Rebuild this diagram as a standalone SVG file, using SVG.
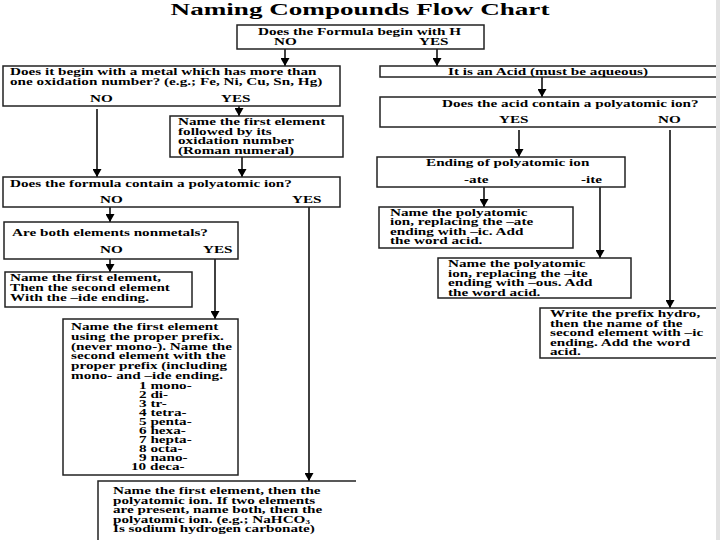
<svg xmlns="http://www.w3.org/2000/svg" width="720" height="540" viewBox="0 0 720 540">
<style>
.t{font-family:"Liberation Serif","Times New Roman",serif;font-weight:bold;font-size:10px;fill:#000}
.title{font-family:"Liberation Serif","Times New Roman",serif;font-weight:bold;font-size:17.5px;fill:#000}
.box{fill:#fff;stroke:#222;stroke-width:1.5}
.ln{fill:none;stroke:#111;stroke-width:1.6}
</style>
<defs>
<marker id="ah" markerUnits="userSpaceOnUse" markerWidth="9" markerHeight="9" refX="8" refY="4.5" orient="auto">
<path d="M0,0 L8,4.5 L0,9 z" fill="#000"/>
</marker>
</defs>
<rect x="0" y="0" width="720" height="540" fill="#fff"/>
<text class="title" text-anchor="middle" transform="translate(360,15) scale(1.55,1)">Naming Compounds Flow Chart</text>

<g id="connectors">
<line class="ln" x1="285" y1="49" x2="285" y2="66" marker-end="url(#ah)"/>
<line class="ln" x1="437" y1="49" x2="437" y2="66" marker-end="url(#ah)"/>
<line class="ln" x1="97" y1="109" x2="97" y2="177" marker-end="url(#ah)"/>
<line class="ln" x1="239" y1="106" x2="239" y2="116" marker-end="url(#ah)"/>
<line class="ln" x1="242" y1="157" x2="242" y2="177" marker-end="url(#ah)"/>
<line class="ln" x1="110" y1="207" x2="110" y2="222" marker-end="url(#ah)"/>
<line class="ln" x1="309" y1="207" x2="309" y2="481" marker-end="url(#ah)"/>
<line class="ln" x1="110" y1="259" x2="110" y2="272" marker-end="url(#ah)"/>
<line class="ln" x1="215" y1="259" x2="215" y2="319" marker-end="url(#ah)"/>
<line class="ln" x1="542" y1="77" x2="542" y2="97" marker-end="url(#ah)"/>
<line class="ln" x1="519" y1="130" x2="519" y2="157" marker-end="url(#ah)"/>
<line class="ln" x1="670" y1="130" x2="670" y2="308" marker-end="url(#ah)"/>
<line class="ln" x1="484" y1="187" x2="484" y2="207" marker-end="url(#ah)"/>
<line class="ln" x1="600" y1="187" x2="600" y2="258" marker-end="url(#ah)"/>
</g>

<g id="n-begin-h">
<rect class="box" x="237" y="25" width="247" height="24"/>
<text class="t" transform="translate(258,35) scale(1.52,1)">Does the Formula begin with H</text>
<text class="t" transform="translate(274,45) scale(1.52,1)">NO</text>
<text class="t" transform="translate(419,45) scale(1.52,1)">YES</text>
</g>

<g id="n-metal">
<rect class="box" x="3" y="66" width="337" height="40"/>
<text class="t" transform="translate(10,74.5) scale(1.52,1)"><tspan x="0" y="0">Does it begin with a metal which has more than</tspan><tspan x="0" y="10.7">one oxidation number? (e.g.; Fe, Ni, Cu, Sn, Hg)</tspan></text>
<text class="t" transform="translate(90,102) scale(1.52,1)">NO</text>
<text class="t" transform="translate(221,102) scale(1.52,1)">YES</text>
</g>

<g id="n-roman">
<rect class="box" x="170" y="116" width="173" height="41"/>
<text class="t" transform="translate(178,125) scale(1.52,1)"><tspan x="0" y="0">Name the first element</tspan><tspan x="0" y="9.7">followed by its</tspan><tspan x="0" y="19.4">oxidation number</tspan><tspan x="0" y="29.1">(Roman numeral)</tspan></text>
</g>

<g id="n-poly">
<rect class="box" x="3" y="177" width="337" height="30"/>
<text class="t" transform="translate(10,187) scale(1.52,1)">Does the formula contain a polyatomic ion?</text>
<text class="t" transform="translate(100,203) scale(1.52,1)">NO</text>
<text class="t" transform="translate(292,203) scale(1.52,1)">YES</text>
</g>

<g id="n-nonmetals">
<rect class="box" x="4" y="222" width="234" height="37"/>
<text class="t" transform="translate(12,236) scale(1.52,1)">Are both elements nonmetals?</text>
<text class="t" transform="translate(100,253) scale(1.52,1)">NO</text>
<text class="t" transform="translate(203,253) scale(1.52,1)">YES</text>
</g>

<g id="n-ide">
<rect class="box" x="5" y="272" width="187" height="35"/>
<text class="t" transform="translate(10,281) scale(1.52,1)"><tspan x="0" y="0">Name the first element,</tspan><tspan x="0" y="10">Then the second element</tspan><tspan x="0" y="20">With the –ide ending.</tspan></text>
</g>

<g id="n-prefix">
<rect class="box" x="63" y="319" width="175" height="156"/>
<text class="t" transform="translate(71,330) scale(1.52,1)"><tspan x="0" y="0">Name the first element</tspan><tspan x="0" y="9.8">using the proper prefix.</tspan><tspan x="0" y="19.6">(never mono-). Name the</tspan><tspan x="0" y="29.4">second element with the</tspan><tspan x="0" y="39.2">proper prefix (including</tspan><tspan x="0" y="49">mono- and –ide ending.</tspan></text>
<text class="t" transform="translate(139,389) scale(1.52,1)"><tspan x="0" y="0">1 mono-</tspan><tspan x="0" y="9">2 di-</tspan><tspan x="0" y="18">3 tr-</tspan><tspan x="0" y="27">4 tetra-</tspan><tspan x="0" y="36">5 penta-</tspan><tspan x="0" y="45">6 hexa-</tspan><tspan x="0" y="54">7 hepta-</tspan><tspan x="0" y="63">8 octa-</tspan><tspan x="0" y="72">9 nano-</tspan><tspan x="-5.3" y="81">10 deca-</tspan></text>
</g>

<g id="n-polyname">
<path class="box" d="M356,481 H98 V541" fill="none"/>
<text class="t" transform="translate(113,494) scale(1.52,1)"><tspan x="0" y="0">Name the first element, then the</tspan><tspan x="0" y="9.6">polyatomic ion.  If two elements</tspan><tspan x="0" y="19.2">are present, name both, then the</tspan><tspan x="0" y="28.8">polyatomic ion. (e.g.; NaHCO<tspan font-size="6" dy="1.2">3</tspan></tspan><tspan x="0" y="38.4">Is sodium hydrogen carbonate)</tspan></text>
</g>

<g id="n-acid">
<rect class="box" x="380" y="66" width="340" height="11"/>
<text class="t" transform="translate(448,75) scale(1.52,1)">It is an Acid (must be aqueous)</text>
</g>

<g id="n-acidpoly">
<rect class="box" x="380" y="97" width="340" height="30"/>
<text class="t" transform="translate(442,106.5) scale(1.52,1)">Does the acid contain a polyatomic ion?</text>
<text class="t" transform="translate(499,123) scale(1.52,1)">YES</text>
<text class="t" transform="translate(658,123) scale(1.52,1)">NO</text>
</g>

<g id="n-ending">
<rect class="box" x="377" y="157" width="248" height="30"/>
<text class="t" transform="translate(426,166) scale(1.52,1)">Ending of polyatomic ion</text>
<text class="t" transform="translate(464,183) scale(1.52,1)">-ate</text>
<text class="t" transform="translate(581,183) scale(1.52,1)">-ite</text>
</g>

<g id="n-ic">
<rect class="box" x="379" y="207" width="194" height="41"/>
<text class="t" transform="translate(390,216) scale(1.52,1)"><tspan x="0" y="0">Name the polyatomic</tspan><tspan x="0" y="9.5">ion, replacing the –ate</tspan><tspan x="0" y="19">ending with –ic.  Add</tspan><tspan x="0" y="28.5">the word acid.</tspan></text>
</g>

<g id="n-ous">
<rect class="box" x="438" y="258" width="193" height="40"/>
<text class="t" transform="translate(448,267) scale(1.52,1)"><tspan x="0" y="0">Name the polyatomic</tspan><tspan x="0" y="9.7">ion, replacing the –ite</tspan><tspan x="0" y="19.4">ending with –ous. Add</tspan><tspan x="0" y="29.1">the word acid.</tspan></text>
</g>

<g id="n-hydro">
<rect class="box" x="540" y="308" width="180" height="50"/>
<text class="t" transform="translate(550,317) scale(1.52,1)"><tspan x="0" y="0">Write the prefix hydro,</tspan><tspan x="0" y="9.6">then the name of the</tspan><tspan x="0" y="19.2">second element with –ic</tspan><tspan x="0" y="28.8">ending.  Add the word</tspan><tspan x="0" y="38.4">acid.</tspan></text>
</g>

<rect x="716" y="0" width="4" height="540" fill="#e2e2e2"/>
</svg>
